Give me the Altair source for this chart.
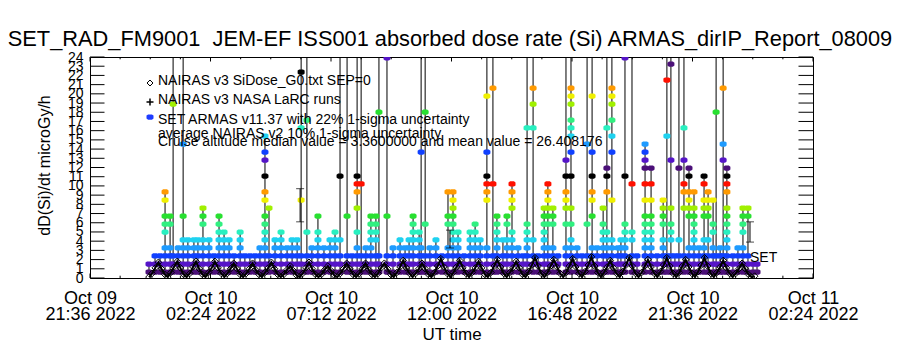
import json
import altair as alt
import pandas as pd

FONT = "Liberation Sans"

# ---------------- text ----------------
chart_title = "SET_RAD_FM9001\u00a0 JEM-EF ISS001 absorbed dose rate (Si) ARMAS_dirIP_Report_08009"
y_title = "dD(Si)/dt microGy/h"
x_title = "UT time"
legend_lines = [
    "NAIRAS v3 SiDose_G0.txt SEP=0",
    "NAIRAS v3 NASA LaRC runs",
    "SET ARMAS v11.37 with 22% 1-sigma uncertainty",
    "average NAIRAS v2 10% 1-sigma uncertainty",
    "Cruise altitude median value = 3.3600000 and mean value = 26.408176",
]
set_label = "SET"

# ---------------- axes (x in hours after 2022-10-09 21:36 UT) ----------------
x_tick_hours = [0.0, 4.8, 9.6, 14.4, 19.2, 24.0, 28.8]
x_tick_date = ["Oct 09", "Oct 10", "Oct 10", "Oct 10", "Oct 10", "Oct 10", "Oct 11"]
x_tick_time = ["21:36 2022", "02:24 2022", "07:12 2022", "12:00 2022",
               "16:48 2022", "21:36 2022", "02:24 2022"]
x_minor_hours = [1.2, 2.4, 3.6, 6.0, 7.2, 8.4, 10.8, 12.0, 13.2, 15.6, 16.8, 18.0,
                 20.4, 21.6, 22.8, 25.2, 26.4, 27.6]
y_tick_values = [0, 1, 2, 3, 4, 5, 6, 7, 8, 9, 10, 11, 12, 13, 14, 15, 16, 17, 18,
                 19, 20, 21, 22, 23, 24]

# ---------------- SET ARMAS dose rate (microGy/h), grouped by time stamp ----------------
armas_hours = [
    2.35, 2.59, 2.79, 2.99, 3.19, 3.31, 3.51, 3.71, 3.90, 4.14, 4.30, 4.50, 4.74, 4.94,
    5.14, 5.34, 5.54, 5.74, 5.98, 6.17, 6.37, 6.57, 6.77, 6.97, 7.13, 7.37, 7.61, 7.85,
    8.05, 8.25, 8.41, 8.64, 8.84, 9.08, 9.32, 9.56, 9.76, 9.96, 10.24, 10.44, 10.64,
    10.80, 10.99, 11.19, 11.39, 11.51, 11.83, 12.07, 12.35, 12.55, 12.71, 12.87, 13.11,
    13.19, 13.35, 13.54, 13.78, 14.02, 14.26, 14.46, 14.66, 14.90, 15.14, 15.34, 15.54,
    15.81, 16.05, 16.21, 16.45, 16.61, 16.81, 17.05, 17.25, 17.41, 17.65, 17.85, 18.09,
    18.24, 18.44, 18.64, 18.96, 19.16, 19.40, 19.60, 19.80, 20.00, 20.20, 20.44, 20.59,
    20.79, 21.03, 21.15, 21.31, 21.59, 21.79, 22.11, 22.35, 22.59, 22.83, 22.98, 23.14,
    23.30, 23.46, 23.66, 23.86, 24.06, 24.26, 24.46, 24.62, 24.82, 24.94, 25.10, 25.22,
    25.37, 25.61, 25.81, 26.01, 26.21, 26.41, 26.57,
]
armas_values = [
    [0.65, 1.52],
    [0.65, 1.52, 2.39],
    [0.65, 1.52, 2.39],
    [0.65, 1.52, 2.39, 3.26, 4.99, 5.86, 6.73, 8.47, 9.34],
    [0.65, 1.52, 2.39, 3.26, 5.86, 6.73],
    [0.65, 1.52, 2.39, 18.89, 180],
    [0.65, 1.52, 2.39, 3.26],
    [0.65, 1.52, 2.39, 3.26, 4.13, 6.73, 14.55, 180],
    [0.65, 1.52, 2.39, 3.26, 4.13],
    [0.65, 1.52, 2.39, 3.26, 4.13],
    [0.65, 1.52, 2.39, 3.26, 4.13],
    [0.65, 1.52, 2.39, 3.26, 4.13, 5.86, 6.73, 7.60],
    [0.65, 1.52, 2.39, 3.26, 4.13],
    [0.65, 1.52, 2.39],
    [0.65, 1.52, 2.39, 3.26, 4.13, 4.99, 5.86, 6.73],
    [0.65, 1.52, 2.39, 3.26, 4.13, 4.99],
    [0.65, 1.52, 2.39, 3.26, 4.13],
    [0.65, 1.52, 2.39],
    [0.65, 1.52, 2.39, 3.26, 4.13, 4.99],
    [0.65, 1.52, 2.39],
    [0.65, 1.52, 2.39],
    [0.65, 1.52, 2.39],
    [0.65, 1.52, 2.39, 3.26],
    [0.65, 1.52, 2.39, 3.26, 4.13, 4.99, 5.86, 6.73, 8.47, 9.34, 11.07, 12.81, 13.68, 15.42],
    [0.65, 1.52, 2.39, 7.60],
    [0.65, 1.52, 2.39, 3.26, 4.13],
    [0.65, 1.52, 2.39, 3.26, 4.13, 4.99],
    [0.65, 1.52, 2.39, 3.26],
    [0.65, 1.52, 2.39, 3.26, 4.13],
    [0.65, 1.52, 2.39, 3.26, 4.13],
    [0.65, 1.52, 2.39, 8.47, 16.29, 22.37, 180],
    [0.65, 1.52, 2.39, 4.99, 17.15, 180],
    [0.65, 1.52, 2.39, 3.26],
    [0.65, 1.52, 2.39, 3.26, 4.13, 4.99, 6.73],
    [0.65, 1.52, 2.39, 3.26],
    [0.65, 1.52, 2.39, 3.26, 4.13],
    [0.65, 1.52, 2.39, 3.26, 4.13, 4.99],
    [0.65, 1.52, 2.39, 4.13, 11.07, 180],
    [0.65, 1.52, 2.39, 6.73, 180],
    [0.65, 1.52, 2.39],
    [0.65, 1.52, 2.39, 3.26, 4.99, 7.60, 9.34, 10.21, 11.07, 180],
    [0.65, 1.52, 2.39, 10.21, 180],
    [0.65, 1.52, 2.39, 3.26],
    [0.65, 1.52, 2.39, 3.26, 4.13, 4.99, 5.86, 6.73],
    [0.65, 1.52, 2.39, 4.13, 4.99, 5.86, 6.73],
    [0.65, 1.52, 2.39, 18.02, 180],
    [0.65, 1.52, 2.39, 6.73, 23.9, 180],
    [0.65, 1.52, 2.39, 3.26],
    [0.65, 1.52, 2.39, 3.26, 4.13],
    [0.65, 1.52, 2.39, 3.26],
    [0.65, 1.52, 2.39, 3.26, 4.13],
    [0.65, 1.52, 2.39, 3.26, 4.13, 4.99, 5.86, 6.73],
    [0.65, 1.52, 2.39, 3.26, 4.13, 4.99],
    [0.65, 1.52, 2.39, 3.26, 13.68, 180],
    [0.65, 1.52, 2.39, 5.86, 18.02, 180],
    [0.65, 1.52, 2.39, 3.26],
    [0.65, 1.52, 2.39, 3.26, 4.13],
    [0.65, 1.52, 2.39],
    [0.65, 1.52, 2.39, 3.26, 5.86, 6.73, 9.34],
    [0.65, 1.52, 2.39, 3.26, 4.13, 4.99, 5.86, 6.73, 7.60, 8.47, 9.34],
    [0.65, 1.52, 2.39, 3.26, 4.13, 4.99],
    [0.65, 1.52, 2.39],
    [0.65, 1.52, 2.39, 3.26, 4.13, 4.99],
    [0.65, 1.52, 2.39, 3.26, 4.13, 4.99, 5.86],
    [0.65, 1.52, 2.39, 3.26, 4.13],
    [0.65, 1.52, 2.39, 3.26, 8.47, 9.34, 10.21, 11.07, 13.68, 19.76, 180],
    [0.65, 1.52, 2.39, 10.21, 20.63, 180],
    [0.65, 1.52, 2.39, 3.26, 4.13, 4.99, 5.86, 6.73],
    [0.65, 1.52, 2.39, 4.13],
    [0.65, 1.52, 2.39, 3.26, 4.13, 5.86, 6.73],
    [0.65, 1.52, 2.39, 3.26, 4.13, 4.99, 7.60, 8.47, 9.34, 10.21],
    [0.65, 1.52, 2.39, 3.26],
    [0.65, 1.52, 2.39],
    [0.65, 1.52, 2.39, 3.26, 4.13, 4.99, 5.86, 16.29, 180],
    [0.65, 1.52, 2.39, 4.13, 16.29, 18.89, 20.63, 180],
    [0.65, 1.52, 2.39],
    [0.65, 1.52, 2.39, 3.26, 4.13, 4.99, 5.86, 6.73, 7.60],
    [0.65, 1.52, 2.39, 3.26, 5.86, 6.73, 7.60, 8.47, 9.34, 10.21],
    [0.65, 1.52, 2.39, 3.26, 5.86, 6.73, 7.60],
    [0.65, 1.52, 2.39],
    [0.65, 1.52, 2.39, 3.26, 5.86, 7.60, 8.47, 9.34, 11.07, 12.81, 180],
    [0.65, 1.52, 2.39, 3.26, 4.13, 5.86, 7.60, 11.07, 13.68, 15.42, 16.29, 17.15, 18.89, 19.76, 20.63, 180],
    [0.65, 1.52, 2.39, 3.26],
    [0.65, 1.52, 2.39],
    [0.65, 1.52, 2.39, 5.86, 14.55, 180],
    [0.65, 1.52, 2.39, 3.26, 6.73, 8.47, 9.34, 11.07, 13.68, 19.76, 180],
    [0.65, 1.52, 2.39, 3.26],
    [0.65, 1.52, 2.39, 3.26, 4.13, 4.99, 5.86, 7.60],
    [0.65, 1.52, 2.39, 3.26, 4.13, 4.99, 9.34, 11.07, 11.94, 16.29, 180],
    [0.65, 1.52, 2.39, 3.26, 4.13, 8.47, 13.68, 15.42, 17.15, 18.89, 19.76, 20.63, 180],
    [0.65, 1.52, 2.39, 3.26],
    [0.65, 1.52, 2.39, 3.26, 4.13],
    [0.65, 1.52, 2.39, 3.26, 4.13, 4.99, 5.86, 11.07, 23.9, 180],
    [0.65, 1.52, 2.39, 4.13, 4.99, 10.21, 180],
    [0.65, 1.52, 2.39],
    [0.65, 1.52, 2.39, 3.26, 4.13, 4.99, 5.86, 6.73, 8.47, 10.21, 11.94, 12.81, 13.68, 14.55],
    [0.65, 1.52, 2.39, 3.26, 4.13, 4.99, 5.86, 6.73, 8.47, 10.21, 11.94],
    [0.65, 1.52, 2.39],
    [0.65, 1.52, 2.39, 3.26, 4.13, 5.86, 6.73, 7.60, 8.47],
    [0.65, 1.52, 2.39, 15.42, 21.50, 180],
    [0.65, 1.52, 2.39, 4.13, 4.99, 5.86, 7.60, 12.81, 23.23, 180],
    [0.65, 1.52, 2.39],
    [0.65, 1.52, 2.39, 4.13, 11.94, 180],
    [0.65, 1.52, 2.39, 7.60, 9.34, 10.21, 12.81, 16.29, 180],
    [0.65, 1.52, 2.39, 3.26, 6.73, 7.60, 8.47, 9.34, 11.07, 11.94],
    [0.65, 1.52, 2.39, 3.26, 4.13, 4.99, 5.86, 6.73, 7.60, 9.34],
    [0.65, 1.52, 2.39, 3.26],
    [0.65, 1.52, 2.39, 3.26, 4.13, 6.73, 7.60, 8.47, 10.21, 11.07],
    [0.65, 1.52, 2.39, 4.13, 6.73, 7.60, 8.47, 9.34],
    [0.65, 1.52, 2.39, 3.26, 4.99, 5.86, 8.47],
    [0.65, 1.52, 2.39, 18.02, 180],
    [0.65, 1.52, 2.39, 3.26],
    [0.65, 1.52, 2.39, 12.81, 14.55, 20.63, 180],
    [0.65, 1.52, 2.39, 3.26, 4.13, 4.99, 5.86, 6.73, 7.60, 9.34, 10.21, 11.07, 11.94],
    [0.65, 1.52, 2.39],
    [0.65, 1.52, 2.39, 3.26],
    [0.65, 1.52, 2.39, 3.26, 4.99, 5.86, 6.73, 7.60],
    [0.65, 1.52, 2.39, 6.73, 7.60],
    [0.65, 1.52],
    [0.65, 1.52],
]

# ---------------- NAIRAS v3 SiDose_G0 model (regular 0.125 h sampling) ----------------
nairas_start_hour = 2.35
nairas_step_hour = 0.125
nairas_values = [
    0.1, 0.5, 1.1, 1.7, 1.0, 0.4,   0.1, 0.6, 1.2, 1.8, 1.1, 0.4,
    0.1, 0.5, 1.2, 1.8, 1.0, 0.4,   0.1, 0.6, 1.1, 1.8, 1.1, 0.5,
    0.1, 0.5, 1.0, 1.6, 1.0, 0.4,   0.1, 0.5, 1.0, 1.6, 0.9, 0.4,
    0.1, 0.6, 1.1, 1.7, 1.0, 0.4,   0.1, 0.4, 0.9, 1.3, 0.8, 0.3,
    0.1, 0.5, 1.1, 1.7, 1.0, 0.4,   0.1, 0.4, 0.9, 1.3, 0.8, 0.3,
    0.1, 0.5, 1.0, 1.6, 1.0, 0.4,   0.1, 0.5, 1.0, 1.6, 0.9, 0.4,
    0.1, 0.5, 1.1, 1.6, 1.0, 0.4,   0.1, 0.6, 1.2, 1.9, 1.1, 0.5,
    0.1, 0.5, 1.0, 1.6, 1.0, 0.4,   0.1, 0.6, 1.3, 2.1, 1.2, 0.5,
    0.1, 0.6, 1.2, 1.9, 1.1, 0.5,   0.1, 0.6, 1.1, 1.8, 1.1, 0.4,
    0.1, 0.6, 1.3, 2.0, 1.2, 0.5,   0.1, 0.6, 1.1, 1.8, 1.1, 0.4,
    0.1, 0.7, 1.4, 2.2, 1.3, 0.5,   0.1, 0.6, 1.3, 2.0, 1.2, 0.5,
    0.1, 0.6, 1.3, 2.1, 1.2, 0.5,   0.1, 0.7, 1.4, 2.3, 1.3, 0.6,
    0.1, 0.6, 1.2, 1.9, 1.1, 0.5,   0.1, 0.7, 1.4, 2.2, 1.3, 0.5,
    0.1, 0.6, 1.3, 2.0, 1.2, 0.5,   0.1, 0.7, 1.4, 2.2, 1.3, 0.5,
    0.1, 0.6, 1.3, 2.0, 1.2, 0.5,   0.1, 0.7, 1.4, 2.2, 1.3, 0.5,
    0.1, 0.6, 1.2, 1.9, 1.1, 0.5,   0.1, 0.5, 1.0, 1.6, 1.0, 0.4,
    0.1, 0.2,
]

# ---------------- uncertainty bars ----------------
bar_hours = [8.37, 14.34, 26.29]
bar_low = [6.1, 3.26, 3.9]
bar_high = [9.7, 5.2, 6.1]

# ---------------- tables ----------------
rows = []
for ci, (h, vals) in enumerate(zip(armas_hours, armas_values)):
    for v in vals:
        rows.append({"col": ci, "h": h, "v": v})
armas_df = pd.DataFrame(rows)
nairas_df = pd.DataFrame({
    "h": [nairas_start_hour + i * nairas_step_hour for i in range(len(nairas_values))],
    "v": nairas_values,
})
bars_df = pd.DataFrame({"h": bar_hours, "v": bar_low, "hi": bar_high})

# ---------------- styles ----------------
W, H = 723, 221
LEVEL_COLORS = ["#4b0f78", "#5514c8", "#1040ff", "#1e9bff", "#1ed2f0", "#28f0c0",
                "#30f080", "#28e030", "#a0f000", "#f0f000", "#ff9a00", "#ff1000", "#000000"]
HEX = "M-1,-0.4L-0.55,-0.75L0.55,-0.75L1,-0.4L1,0.4L0.55,0.75L-0.55,0.75L-1,0.4Z"
PLUS = "M-1,0L1,0M0,-1L0,1"

xs = alt.Scale(domain=[0, 28.8], nice=False, zero=False)
ys = alt.Scale(domain=[0, 24], nice=False, zero=False)

label_expr = "[{d}[round(datum.value/4.8)], {t}[round(datum.value/4.8)]]".format(
    d=json.dumps(x_tick_date).replace('"', "'"), t=json.dumps(x_tick_time).replace('"', "'"))

x_axis = alt.Axis(values=x_tick_hours, labelExpr=label_expr, title=x_title, ticks=False,
                  domain=False, grid=False, labelFont=FONT, labelFontSize=18,
                  labelLineHeight=16, labelPadding=11, labelBaseline="top",
                  labelOverlap=False, labelFlush=False, labelColor="black",
                  titleFont=FONT, titleFontSize=17, titleFontWeight="normal",
                  titleColor="black", titleY=61, titleBaseline="alphabetic")
y_axis = alt.Axis(values=y_tick_values, format="d", title=y_title, ticks=False,
                  domain=False, grid=False, labelFont=FONT, labelFontSize=14,
                  labelPadding=7, labelOverlap=False, labelFlush=False,
                  labelColor="black", labelBaseline="middle",
                  titleFont=FONT, titleFontSize=16, titleFontWeight="normal",
                  titleColor="black", titleAngle=-90, titleX=-41, titleY=108,
                  titleAlign="center", titleBaseline="alphabetic")

X = alt.X("h:Q", scale=xs, axis=x_axis)
Y = alt.Y("v:Q", scale=ys, axis=y_axis)

lines = alt.Chart(armas_df).mark_line(color="black", strokeWidth=1, clip=True).encode(
    x=X, y=Y, detail="col:N", order=alt.Order("v:Q"),
)

points = alt.Chart(armas_df).transform_calculate(
    lvl="round((datum.v - 0.651) / 0.8686) % 13"
).mark_point(shape=HEX, filled=True, size=49, opacity=1, strokeWidth=0, clip=True).encode(
    x=X, y=Y,
    color=alt.Color("lvl:O", scale=alt.Scale(domain=list(range(13)), range=LEVEL_COLORS),
                    legend=None),
)

nairas_line = alt.Chart(nairas_df).mark_line(color="black", strokeWidth=2,
                                             clip=True).encode(x=X, y=Y)
diamonds = alt.Chart(nairas_df).mark_point(shape="diamond", filled=False, size=44,
                                           color="black", strokeWidth=1, opacity=1,
                                           clip=True).encode(x=X, y=Y)

bar_rule = alt.Chart(bars_df).mark_rule(color="black", strokeWidth=1).encode(
    x=X, y=Y, y2="hi:Q")
bar_lo = alt.Chart(bars_df).mark_tick(color="black", orient="horizontal", size=8,
                                      thickness=1).encode(x=X, y=Y)
bar_hi = alt.Chart(bars_df).mark_tick(color="black", orient="horizontal", size=8,
                                      thickness=1).encode(
    x=X, y=alt.Y("hi:Q", scale=ys, axis=y_axis))

# inward IDL-style ticks
ytick_df = pd.DataFrame({"v": y_tick_values})
ytl = alt.Chart(ytick_df).mark_rule(color="black", strokeWidth=1).encode(
    y=Y, x=alt.value(0), x2=alt.value(14.5))
ytr = alt.Chart(ytick_df).mark_rule(color="black", strokeWidth=1).encode(
    y=Y, x=alt.value(W - 14.5), x2=alt.value(W))
xmaj_df = pd.DataFrame({"h": x_tick_hours})
xmin_df = pd.DataFrame({"h": x_minor_hours})
xmb = alt.Chart(xmaj_df).mark_rule(color="black", strokeWidth=1).encode(
    x=X, y=alt.value(H), y2=alt.value(H - 4.5))
xmt = alt.Chart(xmaj_df).mark_rule(color="black", strokeWidth=1).encode(
    x=X, y=alt.value(0), y2=alt.value(4.5))
xnb = alt.Chart(xmin_df).mark_rule(color="black", strokeWidth=1).encode(
    x=X, y=alt.value(H), y2=alt.value(H - 2.3))
xnt = alt.Chart(xmin_df).mark_rule(color="black", strokeWidth=1).encode(
    x=X, y=alt.value(0), y2=alt.value(2.3))


def text_layer(s, x, y, size, align="left"):
    return alt.Chart(pd.DataFrame({"t": [s]})).mark_text(
        font=FONT, fontSize=size, align=align, baseline="alphabetic", color="black"
    ).encode(x=alt.value(x), y=alt.value(y), text="t:N")


one = pd.DataFrame({"k": [0]})
leg_diamond = alt.Chart(one).mark_point(shape="diamond", filled=False, size=36,
                                        color="black", strokeWidth=1, opacity=1).encode(
    x=alt.value(60), y=alt.value(26))
leg_plus = alt.Chart(one).mark_point(shape=PLUS, filled=False, size=49, color="black",
                                     strokeWidth=1.5, opacity=1).encode(
    x=alt.value(60), y=alt.value(45))
leg_dot = alt.Chart(one).mark_point(shape=HEX, filled=True, size=49, color="#1e3cff",
                                    opacity=1, strokeWidth=0).encode(
    x=alt.value(60), y=alt.value(60))

leg_y = [28, 47, 67, 81, 89]
texts = [text_layer(s, 68, y, 14) for s, y in zip(legend_lines, leg_y)]
texts.append(text_layer(set_label, 660, 205, 14))
texts.append(text_layer(chart_title, 360, -11, 21.8, align="center"))

chart = alt.layer(
    lines, points, nairas_line, diamonds, bar_rule, bar_lo, bar_hi,
    ytl, ytr, xmb, xmt, xnb, xnt,
    leg_diamond, leg_plus, leg_dot, *texts,
).properties(
    width=W, height=H,
    padding={"left": 90, "top": 57, "right": 87, "bottom": 72},
    autosize=alt.AutoSizeParams(type="none"),
    background="white",
).configure_view(stroke="black", strokeWidth=1)

chart.save("out.html", embed_options={"renderer": "svg", "actions": False})
